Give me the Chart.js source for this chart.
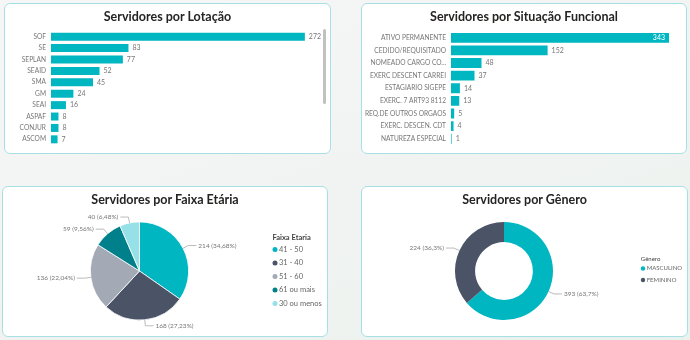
<!DOCTYPE html>
<html>
<head>
<meta charset="utf-8">
<script src="https://cdn.jsdelivr.net/npm/chart.js@4"></script>
<style>
  html, body { margin: 0; padding: 0; }
  body {
    width: 690px; height: 340px; overflow: hidden; position: relative;
    background: linear-gradient(160deg, #f6f6f6 0%, #f1f3f2 55%, #e9f2ed 100%);
    font-family: Lato, sans-serif;
  }
  .panel {
    position: absolute; background: #fff; border: 1px solid #a6e0e4;
    border-radius: 6px; box-sizing: border-box; overflow: hidden;
  }
  .panel canvas { position: absolute; left: -1px; top: -1px; }
  .title {
    position: absolute; left: 0; right: 0; top: 3px; text-align: center;
    font-weight: 700; font-size: 12.5px; color: #252423; line-height: 20px;
  }
  .scroll { position: absolute; left: 318px; top: 25px; width: 3px; height: 75px; background: #c1c1c1; border-radius: 2px; }
</style>
</head>
<body>
<div class="panel" style="left:4px;top:3px;width:327px;height:151px">
  <canvas id="lotacao" width="327" height="151"></canvas>
  <div class="title">Servidores por Lotação</div>
  <div class="scroll"></div>
</div>
<div class="panel" style="left:361px;top:3px;width:326px;height:151px">
  <canvas id="situacao" width="326" height="151"></canvas>
  <div class="title">Servidores por Situação Funcional</div>
</div>
<div class="panel" style="left:2px;top:186px;width:326px;height:151px">
  <canvas id="faixa" width="326" height="151"></canvas>
  <div class="title">Servidores por Faixa Etária</div>
</div>
<div class="panel" style="left:361px;top:186px;width:327px;height:151px">
  <canvas id="genero" width="327" height="151"></canvas>
  <div class="title">Servidores por Gênero</div>
</div>
<script>
const lotacaoLabels = ['SOF', 'SE', 'SEPLAN', 'SEAID', 'SMA', 'GM', 'SEAI', 'ASPAF', 'CONJUR', 'ASCOM'];
const lotacaoValues = [272, 83, 77, 52, 45, 24, 16, 8, 8, 7];

const situacaoLabels = ['ATIVO PERMANENTE', 'CEDIDO/REQUISITADO', 'NOMEADO CARGO CO...', 'EXERC DESCENT CARREI',
    'ESTAGIARIO SIGEPE', 'EXERC. 7 ART93 8112', 'REQ.DE OUTROS ORGAOS', 'EXERC. DESCEN. CDT', 'NATUREZA ESPECIAL'];
const situacaoValues = [343, 152, 48, 37, 14, 13, 5, 4, 1];

const faixaLabels = ['41 - 50', '31 - 40', '51 - 60', '61 ou mais', '30 ou menos'];
const faixaValues = [214, 168, 136, 59, 40];

const generoLabels = ['MASCULINO', 'FEMININO'];
const generoValues = [393, 224];

const teal = '#00b6c1';
const faixaColors = ['#00b6c1', '#4a5466', '#a3aab5', '#00808a', '#96e0e7'];
const generoColors = ['#00b6c1', '#4a5466'];

Chart.defaults.font.family = 'Lato, sans-serif';
Chart.defaults.animation = false;

// numbers at the end of the bars
const barLabels = {
    id: 'barLabels',
    afterDatasetsDraw(chart, args, opts) {
        const ctx = chart.ctx;
        const meta = chart.getDatasetMeta(0);
        ctx.save();
        ctx.font = '7px Lato';
        ctx.textBaseline = 'middle';
        meta.data.forEach((bar, i) => {
            const v = chart.data.datasets[0].data[i];
            if (opts.inside && i === 0) {
                ctx.fillStyle = '#fff';
                ctx.textAlign = 'right';
                ctx.fillText(v, bar.x - 4, bar.y);
            } else {
                ctx.fillStyle = '#777';
                ctx.textAlign = 'left';
                ctx.fillText(v, bar.x + 4, bar.y);
            }
        });
        ctx.restore();
    }
};

// value (percent) labels outside the slices, with leader lines
const outLabels = {
    id: 'outLabels',
    afterDatasetsDraw(chart, args, opts) {
        const ctx = chart.ctx;
        const meta = chart.getDatasetMeta(0);
        const data = chart.data.datasets[0].data;
        const total = data.reduce((a, b) => a + b, 0);
        ctx.save();
        ctx.font = '6.5px Lato';
        ctx.textBaseline = 'middle';
        ctx.strokeStyle = '#aaa';
        ctx.lineWidth = 0.8;
        meta.data.forEach((arc, i) => {
            const a = (arc.startAngle + arc.endAngle) / 2;
            const r = arc.outerRadius;
            const dx = Math.cos(a), dy = Math.sin(a);
            const x1 = arc.x + dx * r, y1 = arc.y + dy * r;
            const x2 = arc.x + dx * (r + 6), y2 = arc.y + dy * (r + 6);
            const s = dx >= 0 ? 1 : -1;
            const x3 = x2 + s * 8;
            ctx.beginPath();
            ctx.moveTo(x1, y1); ctx.lineTo(x2, y2); ctx.lineTo(x3, y2);
            ctx.stroke();
            const pct = (data[i] / total * 100).toFixed(opts.decimals).replace('.', ',');
            ctx.fillStyle = '#777';
            ctx.textAlign = s > 0 ? 'left' : 'right';
            ctx.fillText(data[i] + ' (' + pct + '%)', x3 + s * 2, y2);
        });
        ctx.restore();
    }
};

// legend drawn at a fixed place on the right
const sideLegend = {
    id: 'sideLegend',
    afterDraw(chart, args, opts) {
        const ctx = chart.ctx;
        const colors = chart.data.datasets[0].backgroundColor;
        ctx.save();
        ctx.textBaseline = 'middle';
        ctx.textAlign = 'left';
        ctx.fillStyle = '#444';
        ctx.font = opts.titleFont;
        ctx.fillText(opts.title, opts.x - opts.dot, opts.y);
        ctx.font = opts.font;
        chart.data.labels.forEach((lab, i) => {
            const y = opts.y + opts.first + i * opts.step;
            ctx.fillStyle = colors[i];
            ctx.beginPath();
            ctx.arc(opts.x, y, opts.dot, 0, Math.PI * 2);
            ctx.fill();
            ctx.fillStyle = '#666';
            ctx.fillText(lab, opts.x + opts.dot + 1.5, y);
        });
        ctx.restore();
    }
};

function barOptions(pad, labelWidth, max, inside) {
    return {
        indexAxis: 'y',
        responsive: false,
        layout: { padding: pad },
        plugins: { legend: { display: false }, tooltip: { enabled: false }, barLabels: { inside: inside } },
        scales: {
            x: { display: false, min: 0, max: max },
            y: {
                grid: { display: false, drawTicks: false, tickLength: 0 },
                border: { display: false },
                ticks: { color: '#777', font: { size: 6.6 }, padding: 5, autoSkip: false },
                afterFit: s => { s.width = labelWidth; }
            }
        }
    };
}

new Chart(document.getElementById('lotacao'), {
    type: 'bar',
    data: {
        labels: lotacaoLabels,
        datasets: [{ data: lotacaoValues, backgroundColor: teal, barPercentage: 0.7, categoryPercentage: 1 }]
    },
    options: barOptions({ top: 28, bottom: 7, left: 0, right: 14 }, 47, 285, false),
    plugins: [barLabels]
});

new Chart(document.getElementById('situacao'), {
    type: 'bar',
    data: {
        labels: situacaoLabels,
        datasets: [{ data: situacaoValues, backgroundColor: teal, barPercentage: 0.78, categoryPercentage: 1 }]
    },
    options: barOptions({ top: 28.5, bottom: 8, left: 0, right: 18 }, 90, 343, true),
    plugins: [barLabels]
});

new Chart(document.getElementById('faixa'), {
    type: 'pie',
    data: {
        labels: faixaLabels,
        datasets: [{ data: faixaValues, backgroundColor: faixaColors, borderColor: '#fff', borderWidth: 0.8, hoverOffset: 0 }]
    },
    options: {
        responsive: false,
        layout: { padding: { left: 88, right: 139, top: 35.5, bottom: 16.5 } },
        plugins: {
            legend: { display: false }, tooltip: { enabled: false },
            outLabels: { decimals: 2 },
            sideLegend: { title: 'Faixa Etaria', x: 273, y: 52, first: 11.5, step: 13.5, dot: 2.5,
                titleFont: 'bold 7.5px Lato', font: '7.5px Lato' }
        }
    },
    plugins: [outLabels, sideLegend]
});

new Chart(document.getElementById('genero'), {
    type: 'doughnut',
    data: {
        labels: generoLabels,
        datasets: [{ data: generoValues, backgroundColor: generoColors, borderWidth: 0, hoverOffset: 0 }]
    },
    options: {
        responsive: false,
        cutout: '59%',
        layout: { padding: { left: 94, right: 135, top: 36, bottom: 17 } },
        plugins: {
            legend: { display: false }, tooltip: { enabled: false },
            outLabels: { decimals: 1 },
            sideLegend: { title: 'Gênero', x: 282, y: 73, first: 9.5, step: 11.5, dot: 2.2,
                titleFont: '6px Lato', font: '6px Lato' }
        }
    },
    plugins: [outLabels, sideLegend]
});
</script>
</body>
</html>
